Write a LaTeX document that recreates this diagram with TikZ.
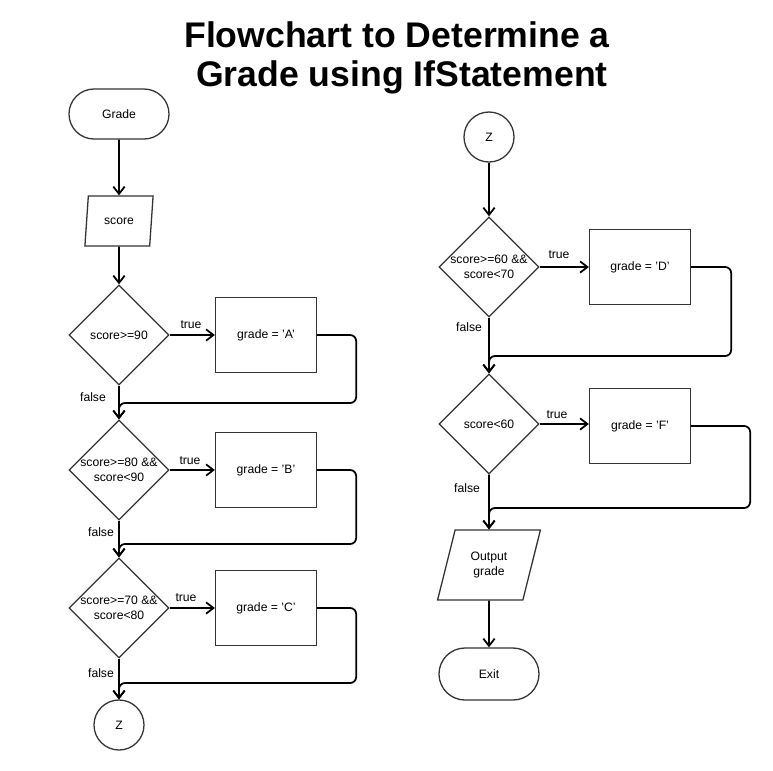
\documentclass[tikz,border=0pt]{standalone}
\usepackage{fontspec}
\setmainfont{Liberation Sans}
\usepackage{tikz}
\usetikzlibrary{shapes.geometric}
\usetikzlibrary{shapes.misc}
\usetikzlibrary{arrows.meta}

\begin{document}
\begin{tikzpicture}[x=0.03cm,y=-0.03cm,
  font=\fontsize{10.4}{12.8}\selectfont,
  outline/.style={draw=black!80,line width=1.1pt},
  terminal/.style={outline,rounded rectangle,minimum width=3cm,minimum height=1.5cm,inner sep=0pt},
  inout/.style={outline,trapezium,trapezium stretches=true,align=center,inner sep=0pt},
  decision/.style={outline,diamond,aspect=1,minimum width=3cm,minimum height=3cm,align=center,inner sep=-2pt},
  process/.style={outline,rectangle,minimum width=3.03cm,minimum height=2.25cm},
  joiner/.style={outline,circle,minimum size=1.5cm,inner sep=0pt},
  flow/.style={draw=black,line width=1.5pt,-{Straight Barb[length=2.2mm,width=3.4mm]}},
  backline/.style={flow,rounded corners=0.18cm},
  branch/.style={inner sep=0pt}]
\useasboundingbox (0,0) rectangle (773,770);

\node[font=\fontsize{30.4}{33.2}\selectfont\bfseries,align=center] (title) at (397,58)
  {Flowchart to Determine a\\\ Grade using IfStatement};

% left column
\node[terminal] (grade) at (119,114) {Grade};
\node[inout,trapezium left angle=76,trapezium right angle=104,minimum width=2.05cm,minimum height=1.5cm] (score) at (119,221) {score};
\node[decision] (d1) at (119,335) {score>=90};
\node[process] (gA) at (266,335) {grade = 'A'};
\node[decision] (d2) at (119,470) {score>=80 \&\&\\score<90};
\node[process] (gB) at (266,470) {grade = 'B'};
\node[decision] (d3) at (119,608) {score>=70 \&\&\\score<80};
\node[process] (gC) at (266,608) {grade = 'C'};
\node[joiner] (z1) at (119,725) {Z};

% right column
\node[joiner] (z2) at (489,137) {Z};
\node[decision] (d4) at (489,267) {score>=60 \&\&\\score<70};
\node[process] (gD) at (640,267) {grade = 'D'};
\node[decision] (d5) at (489,424) {score<60};
\node[process] (gF) at (640,426) {grade = 'F'};
\node[inout,trapezium left angle=70,trapezium right angle=110,minimum width=3.1cm,minimum height=2.1cm] (out) at (489,565) {Output\\grade};
\node[terminal,minimum height=1.56cm] (exit) at (489,674) {Exit};

\node[branch] (t1) at (191,325) {true};
\node[branch] (t2) at (190,461) {true};
\node[branch] (t3) at (186,598) {true};
\node[branch] (t4) at (559,255) {true};
\node[branch] (t5) at (557,415) {true};
\node[branch] (f1) at (93,397) {false};
\node[branch] (f2) at (101,532) {false};
\node[branch] (f3) at (101,673) {false};
\node[branch] (f4) at (469,327) {false};
\node[branch] (f5) at (467,488) {false};

\draw[flow] (grade) -- (score);
\draw[flow] (score) -- (d1);
\draw[flow] (d1) -- (gA);
\draw[flow] (d1) -- (d2);
\draw[flow] (d2) -- (gB);
\draw[flow] (d2) -- (d3);
\draw[flow] (d3) -- (gC);
\draw[flow] (d3) -- (z1);
\draw[backline] (gA.east) -- ++(39,0) -- ++(0,68) -| (d2.north);
\draw[backline] (gB.east) -- ++(39,0) -- ++(0,74) -| (d3.north);
\draw[backline] (gC.east) -- ++(39,0) -- ++(0,75) -| (z1.north);

\draw[flow] (z2) -- (d4);
\draw[flow] (d4) -- (gD);
\draw[flow] (d4) -- (d5);
\draw[flow] (d5) -- (gF.west |- d5);
\draw[flow] (d5) -- (out);
\draw[flow] (out) -- (exit);
\draw[backline] (gD.east) -- ++(40,0) -- ++(0,89) -| (d5.north);
\draw[backline] (gF.east) -- ++(59,0) -- ++(0,82) -| (out.north);
\end{tikzpicture}
\end{document}
